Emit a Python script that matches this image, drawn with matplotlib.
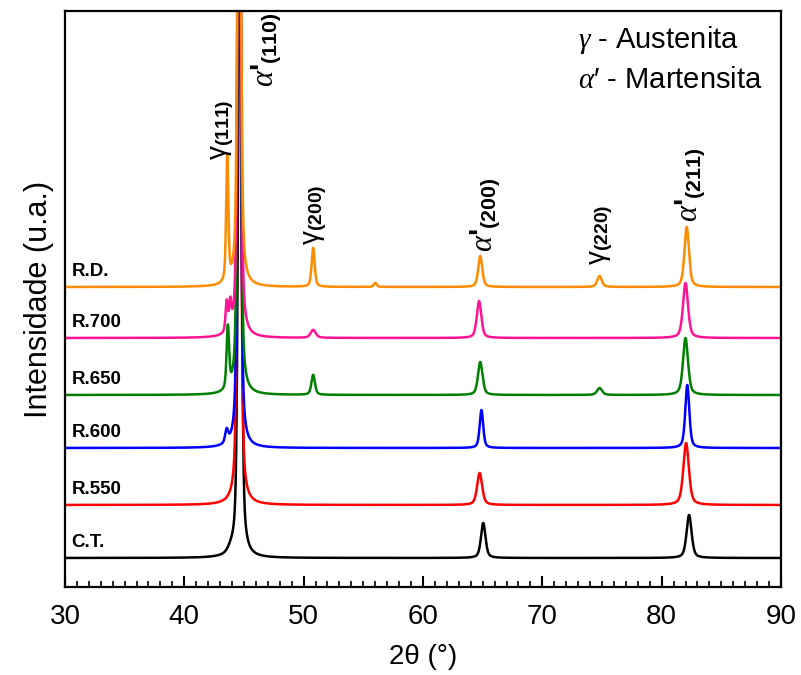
import numpy as np
import matplotlib
matplotlib.use("Agg")
import matplotlib.pyplot as plt
from matplotlib.ticker import MultipleLocator

plt.rcParams["font.family"] = ["Liberation Sans", "DejaVu Sans"]
plt.rcParams["mathtext.fontset"] = "custom"
plt.rcParams["mathtext.rm"] = "Liberation Sans"
plt.rcParams["mathtext.it"] = "Liberation Serif:italic"
plt.rcParams["mathtext.bf"] = "Liberation Sans:bold"

# samples from bottom to top
samples = ["C.T.", "R.550", "R.600", "R.650", "R.700", "R.D."]
colors = ["black", "#ff0000", "#0000ff", "#008000", "#ff1493", "#ff8c00"]
offsets = [29, 82, 139, 192, 249, 300]

# peak tables: 2theta, height above baseline, FWHM
peaks_ct = ([43.9, 44.65, 65.05, 82.3], [4, 700, 35, 43], [0.6, 0.32, 0.45, 0.5])
peaks_550 = ([44.6, 64.75, 82.05], [700, 32, 62], [0.32, 0.5, 0.55])
peaks_600 = ([43.55, 44.6, 64.9, 82.15], [13, 700, 38, 63], [0.3, 0.3, 0.35, 0.4])
peaks_650 = ([43.65, 44.6, 50.8, 64.8, 74.8, 82.0],
             [62, 700, 20, 33, 7, 57],
             [0.25, 0.3, 0.35, 0.45, 0.5, 0.5])
peaks_700 = ([43.55, 43.85, 44.6, 50.8, 64.7, 82.0],
             [30, 26, 700, 8, 37, 55],
             [0.22, 0.22, 0.3, 0.5, 0.45, 0.5])
peaks_rd = ([43.6, 44.6, 50.8, 56.0, 64.8, 74.8, 82.1],
            [124, 700, 39, 4, 31, 11, 60],
            [0.22, 0.3, 0.3, 0.3, 0.4, 0.45, 0.45])
peak_sets = [peaks_ct, peaks_550, peaks_600, peaks_650, peaks_700, peaks_rd]

# reflection labels: phase, plane, 2theta, bottom of label
ref_phase = ["g", "a", "g", "a", "g", "a"]
ref_planes = ["(111)", "(110)", "(200)", "(200)", "(220)", "(211)"]
ref_x = [43.2, 46.9, 51.0, 65.2, 75.0, 82.4]
ref_y = [427, 500, 342, 335, 322, 365]

two_theta = np.linspace(30, 90, 6001)


def profile(pos, height, fwhm, eta=0.5):
    y = np.zeros_like(two_theta)
    for p, h, w in zip(pos, height, fwhm):
        d = (two_theta - p) / (w / 2)
        y += h * (eta / (1 + d ** 2) + (1 - eta) * np.exp(-np.log(2) * d ** 2))
    return y


fig = plt.figure(figsize=(8.01, 6.75), dpi=100)
ax = fig.add_axes([0.0811, 0.1304, 0.8939, 0.8533])

for name, col, off, pk in zip(samples, colors, offsets, peak_sets):
    ax.plot(two_theta, off + profile(*pk), color=col, lw=1.8)
    ax.text(30.55, off + 7, name, fontsize=13.5, fontweight="bold", va="bottom")

for ph, pl, x, y in zip(ref_phase, ref_planes, ref_x, ref_y):
    if ph == "g":
        ax.text(x, y, "γ$_{\\mathbf{" + pl + "}}$", rotation=90, fontsize=20,
                ha="center", va="bottom")
    else:
        ax.text(x, y, "$\\alpha$'$_{\\mathbf{" + pl + "}}$", rotation=90, fontsize=22,
                fontweight="bold", ha="center", va="bottom")

ax.text(0.716, 0.95, r"$\gamma$ - Austenita", transform=ax.transAxes, fontsize=21, va="center")
ax.text(0.716, 0.88, r"$\alpha$′ - Martensita", transform=ax.transAxes, fontsize=21, va="center")

ax.set_xlim(30, 90)
ax.set_ylim(0, 576)
ax.xaxis.set_major_locator(MultipleLocator(10))
ax.xaxis.set_minor_locator(MultipleLocator(1))
ax.tick_params(axis="x", which="major", direction="in", length=8, width=1.5, labelsize=20, pad=12)
ax.tick_params(axis="x", which="minor", direction="in", length=4, width=1.2)
ax.set_yticks([])
for s in ax.spines.values():
    s.set_linewidth(1.6)

ax.set_xlabel("2θ (°)", fontsize=20, labelpad=10)
ax.set_ylabel("Intensidade (u.a.)", fontsize=22, labelpad=8)

fig.savefig("out.png", dpi=100)
